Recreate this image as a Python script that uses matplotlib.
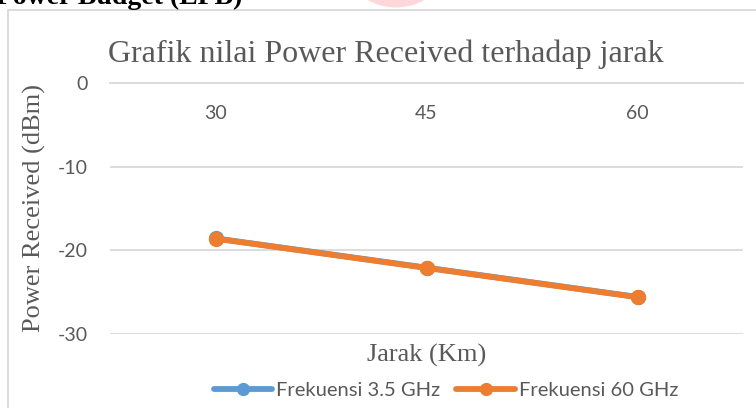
import matplotlib.pyplot as plt
from matplotlib.patches import Rectangle, Ellipse

# data
jarak = ["30", "45", "60"]
pr_35ghz = [-18.57, -22.07, -25.57]
pr_60ghz = [-18.6, -22.1, -25.6]
y_ticks = [0, -10, -20, -30]

GRAY = "#595959"
GRID = "#d9d9d9"
BLUE = "#5B9BD5"
ORANGE = "#ED7D31"
SERIF = ["Liberation Serif", "DejaVu Serif"]
SANS = ["Lato", "DejaVu Sans"]

fig = plt.figure(figsize=(7.56, 4.08), dpi=100)

# chart frame (cut by the image on the right and bottom)
fig.patches.append(Rectangle((8 / 756, -0.1), 1.2, 1 - 10 / 408 + 0.1,
                             transform=fig.transFigure, fill=False,
                             edgecolor=GRID, linewidth=1.3))
# faint watermark peeking in at the top
fig.patches.append(Ellipse((396 / 756, 1 + 50 / 408), 115 / 756, 115 / 408,
                           transform=fig.transFigure, facecolor="#ffd6da",
                           edgecolor="none"))
# heading of the document, mostly cut off
fig.text(-4 / 756, 1 - 4 / 408, "Power Budget (LPB)", family=SERIF,
         fontweight="bold", fontsize=20, color="black", va="baseline", ha="left")

ax = fig.add_axes([110 / 756, 1 - 334 / 408, 633 / 756, 251 / 408])
x = range(len(jarak))
ax.plot(x, pr_35ghz, color=BLUE, lw=4.2, marker="o", ms=10,
        label="Frekuensi 3.5 GHz", solid_capstyle="round")
ax.plot(x, pr_60ghz, color=ORANGE, lw=4.2, marker="o", ms=10,
        label="Frekuensi 60 GHz", solid_capstyle="round")

ax.set_xlim(-0.5, len(jarak) - 0.5)
ax.set_ylim(-30, 0)
ax.set_yticks(y_ticks)
ax.set_yticklabels([str(v) for v in y_ticks])
ax.set_xticks(list(x))
ax.set_xticklabels(jarak)
ax.grid(axis="y", color=GRID, lw=1.3)
ax.set_axisbelow(True)
for s in ["top", "right", "left"]:
    ax.spines[s].set_visible(False)
# category axis crosses at 0, labels hang under it
ax.spines["bottom"].set_position(("data", 0))
ax.spines["bottom"].set_color(GRID)
ax.spines["bottom"].set_linewidth(1.3)
ax.tick_params(axis="x", length=0, pad=16, labelcolor=GRAY, labelsize=14)
ax.tick_params(axis="y", length=0, pad=16, labelcolor=GRAY, labelsize=14)
for lab in ax.get_xticklabels() + ax.get_yticklabels():
    lab.set_family(SANS)

ax.set_title("Grafik nilai Power Received terhadap jarak", family=SERIF,
             fontsize=23, color=GRAY, x=(386 - 110) / 633,
             y=(334 - 62) / 251, pad=0)
ax.set_ylabel("Power Received (dBm)", family=SERIF, fontsize=19, color=GRAY)
ax.yaxis.set_label_coords(-0.101, 0.5)
ax.set_xlabel("Jarak (Km)", family=SERIF, fontsize=19, color=GRAY)
ax.xaxis.set_label_coords(0.5, -0.04)

leg = ax.legend(loc="center", bbox_to_anchor=(446 / 756, 1 - 390 / 408),
                bbox_transform=fig.transFigure, ncol=2, frameon=False,
                prop={"family": SANS, "size": 14.5}, handlelength=2.9,
                handletextpad=0.2, columnspacing=0.8, markerscale=0.85,
                borderpad=0)
for t in leg.get_texts():
    t.set_color(GRAY)

fig.savefig("out.png", dpi=100)
